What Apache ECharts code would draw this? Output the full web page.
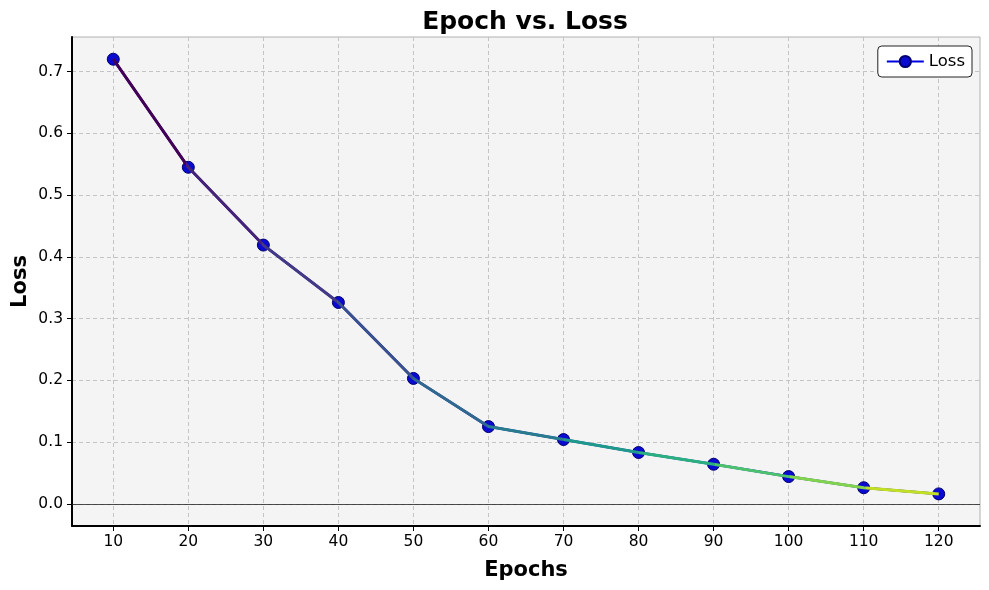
<!DOCTYPE html>
<html>
<head>
<meta charset="utf-8">
<script src="https://cdn.jsdelivr.net/npm/echarts@6/dist/echarts.min.js"></script>
<style>html,body{margin:0;padding:0;background:#fff}#c{width:989px;height:590px}</style>
</head>
<body>
<div id="c"></div>
<script>
const epochs = [10, 20, 30, 40, 50, 60, 70, 80, 90, 100, 110, 120];
const loss = [0.72, 0.545, 0.419, 0.326, 0.203, 0.125, 0.104, 0.083, 0.064, 0.044, 0.026, 0.016];
const xTicks = [10, 20, 30, 40, 50, 60, 70, 80, 90, 100, 110, 120];
const yTicks = [0.0, 0.1, 0.2, 0.3, 0.4, 0.5, 0.6, 0.7];
const segmentColors = ['#440154', '#472374', '#443983', '#3b518b', '#31688e', '#287c8e', '#1f9a8a', '#2ab07f', '#4cc26c', '#81d34d', '#c2df23'];

const FONT = 'DejaVu Sans';
const pts = epochs.map((e, i) => [e, loss[i]]);

// hard-stop gradient, one colour per segment
const stops = [];
const nSeg = segmentColors.length;
segmentColors.forEach((c, i) => {
  stops.push({offset: i / nSeg, color: c});
  stops.push({offset: (i + 1) / nSeg, color: c});
});

const chart = echarts.init(document.getElementById('c'), null, {renderer: 'canvas'});
chart.setOption({
  animation: false,
  backgroundColor: '#ffffff',
  title: {
    text: 'Epoch vs. Loss', left: 520, textAlign: 'center', top: 5,
    textStyle: {fontFamily: FONT, fontSize: 25, fontWeight: 'bold', color: '#000'}
  },
  legend: {
    data: ['Loss'], right: 17, top: 46,
    backgroundColor: '#fff', borderColor: '#222', borderWidth: 1, borderRadius: 4,
    padding: [7, 7, 7, 8], itemWidth: 37, itemHeight: 14, itemGap: 6,
    textStyle: {fontFamily: FONT, fontSize: 16.5, color: '#000'}
  },
  grid: {
    left: 72, right: 9, top: 37, bottom: 64, outerBoundsMode: 'none', containLabel: false,
    show: true, backgroundColor: '#f4f4f4', borderColor: '#b0b0b0', borderWidth: 1
  },
  xAxis: {
    type: 'value', min: 4.5, max: 125.5,
    name: 'Epochs', nameLocation: 'middle', nameGap: 34, nameMoveOverlap: false,
    nameTextStyle: {fontFamily: FONT, fontSize: 21, fontWeight: 'bold', color: '#000'},
    axisLine: {show: true, onZero: false, lineStyle: {color: '#000', width: 2}},
    axisTick: {show: true, customValues: xTicks, length: 5, lineStyle: {color: '#000', width: 1}},
    axisLabel: {customValues: xTicks, fontFamily: FONT, fontSize: 15.5, color: '#000', margin: 8},
    splitLine: {show: true, lineStyle: {color: '#c4c4c4', width: 1, type: [4, 3]}}
  },
  yAxis: {
    type: 'value', min: -0.036, max: 0.756,
    name: 'Loss', nameLocation: 'middle', nameGap: 41, nameRotate: 90, nameMoveOverlap: false,
    nameTextStyle: {fontFamily: FONT, fontSize: 21, fontWeight: 'bold', color: '#000'},
    axisLine: {show: true, onZero: false, lineStyle: {color: '#000', width: 2}},
    axisTick: {show: true, customValues: yTicks, length: 5, lineStyle: {color: '#000', width: 1}},
    axisLabel: {customValues: yTicks, fontFamily: FONT, fontSize: 15.5, color: '#000', margin: 9,
      formatter: v => Number(v).toFixed(1)},
    splitLine: {show: true, lineStyle: {color: '#c4c4c4', width: 1, type: [4, 3]}}
  },
  series: [
    {
      name: 'Loss', type: 'line', data: pts, z: 2,
      symbol: 'circle', symbolSize: 12, showSymbol: true,
      color: '#0000cc',
      lineStyle: {color: '#0000e0', width: 2.5},
      itemStyle: {color: '#0a0ad0', borderColor: '#00006e', borderWidth: 1},
      markLine: {
        silent: true, symbol: 'none', label: {show: false},
        lineStyle: {color: '#222', width: 0.8, type: 'solid'},
        data: [{yAxis: 0}]
      }
    },
    {
      name: 'gradient', type: 'line', data: pts, z: 3,
      showSymbol: false, symbol: 'none', silent: true,
      lineStyle: {width: 3, color: {type: 'linear', x: 0, y: 0, x2: 1, y2: 0, colorStops: stops}}
    }
  ]
});
</script>
</body>
</html>
